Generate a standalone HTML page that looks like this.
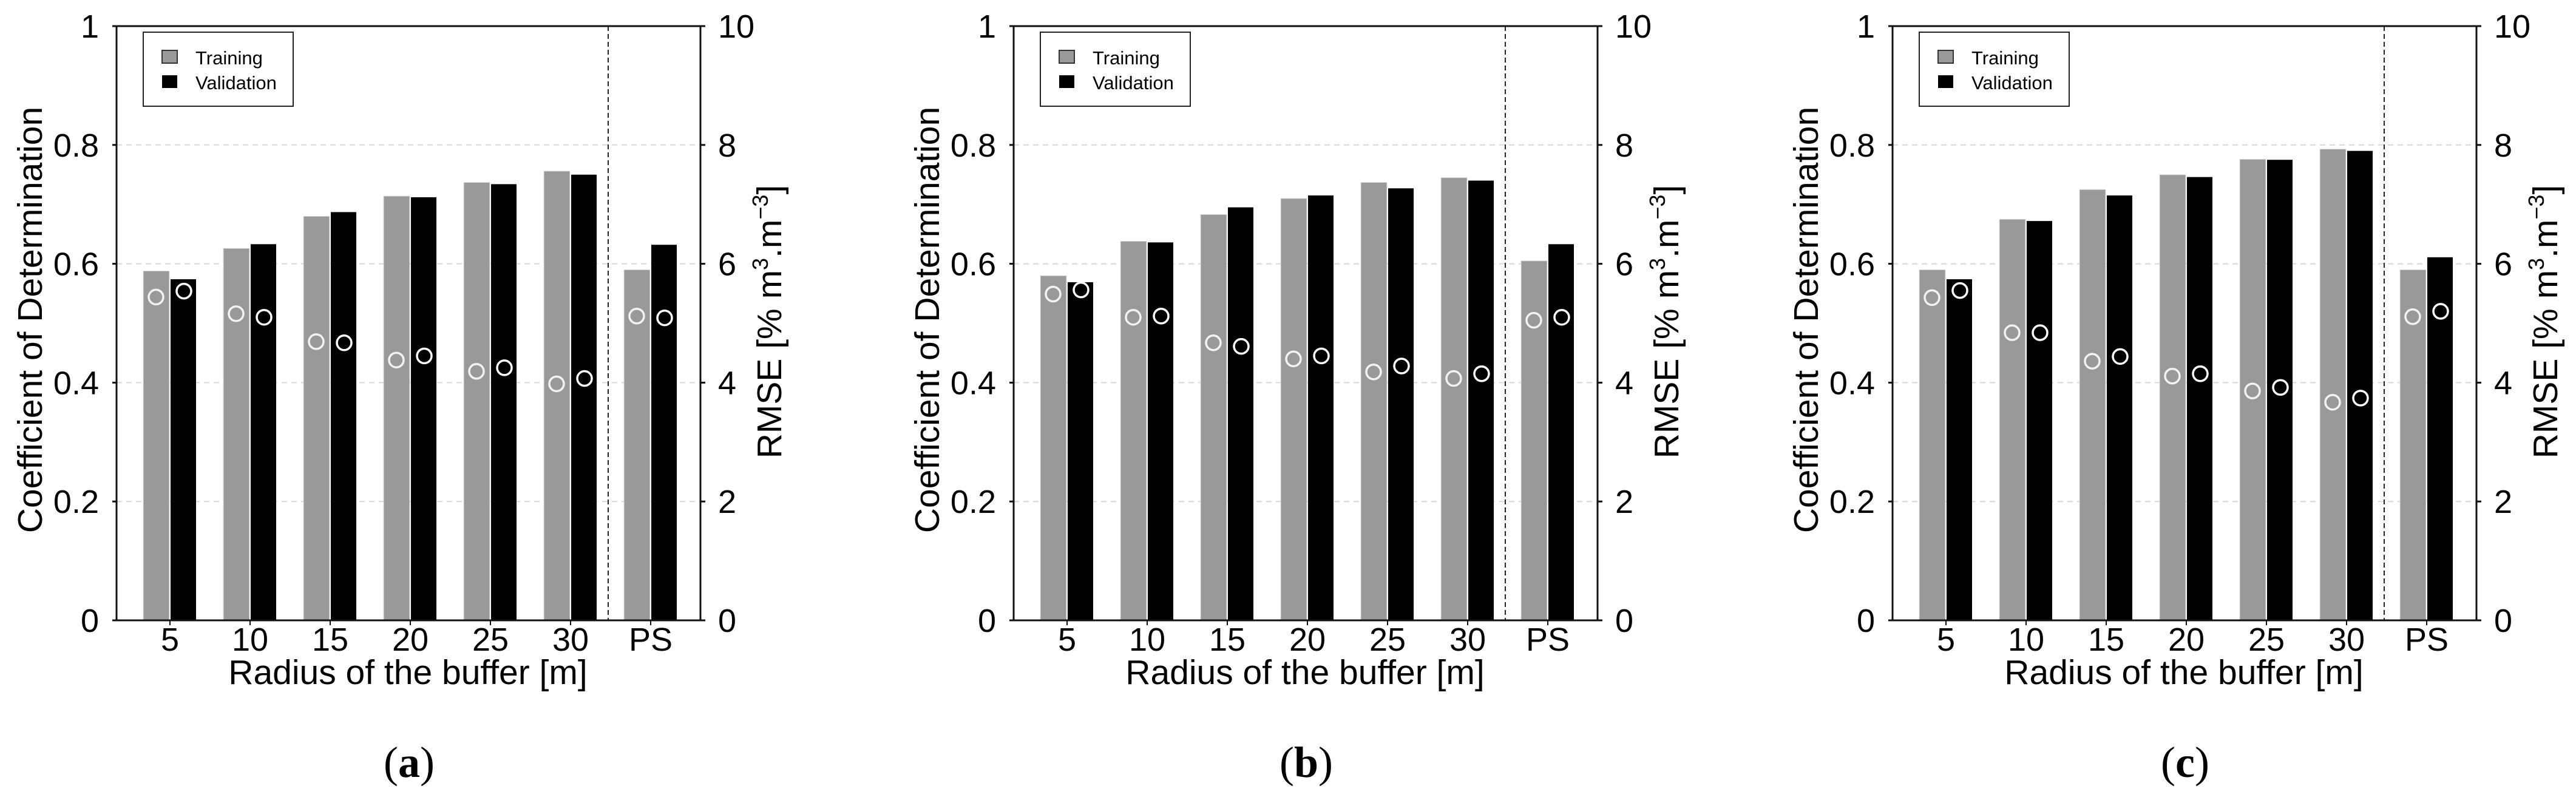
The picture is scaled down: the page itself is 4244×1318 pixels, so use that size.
<!DOCTYPE html>
<html><head><meta charset="utf-8"><style>
html,body{margin:0;padding:0;background:#fff;}
svg{display:block;font-family:"Liberation Sans",sans-serif;}
</style></head><body>
<svg id="fig" width="4244" height="1318" viewBox="0 0 4244 1318" xmlns="http://www.w3.org/2000/svg"></svg>
<script>
const categories = ["5","10","15","20","25","30","PS"];
const r2TickLabels = ["0","0.2","0.4","0.6","0.8","1"];
const rmseTickLabels = ["0","2","4","6","8","10"];
const panelLetters = ["a","b","c"];
const r2TrainA = [0.588,0.626,0.680,0.714,0.737,0.756,0.590];
const r2ValA   = [0.574,0.633,0.687,0.712,0.734,0.750,0.632];
const rmseTrainA = [5.44,5.16,4.69,4.38,4.19,3.98,5.12];
const rmseValA   = [5.54,5.10,4.67,4.45,4.25,4.07,5.09];
const r2TrainB = [0.580,0.638,0.683,0.710,0.737,0.745,0.605];
const r2ValB   = [0.569,0.636,0.695,0.715,0.727,0.740,0.633];
const rmseTrainB = [5.49,5.10,4.67,4.40,4.18,4.07,5.05];
const rmseValB   = [5.56,5.12,4.61,4.45,4.28,4.15,5.10];
const r2TrainC = [0.590,0.675,0.725,0.750,0.776,0.793,0.590];
const r2ValC   = [0.574,0.672,0.715,0.746,0.775,0.790,0.611];
const rmseTrainC = [5.43,4.84,4.36,4.11,3.86,3.67,5.11];
const rmseValC   = [5.55,4.84,4.44,4.15,3.92,3.74,5.20];

const NS="http://www.w3.org/2000/svg";
const svg=document.getElementById('fig');
function mk(tag,attrs,parent,text){const e=document.createElementNS(NS,tag);for(const k in attrs)e.setAttribute(k,attrs[k]);if(text!==undefined)e.textContent=text;(parent||svg).appendChild(e);return e;}

const panels=[
 {off:0,tr:r2TrainA,va:r2ValA,rt:rmseTrainA,rv:rmseValA},
 {off:1478,tr:r2TrainB,va:r2ValB,rt:rmseTrainB,rv:rmseValB},
 {off:2926,tr:r2TrainC,va:r2ValC,rt:rmseTrainC,rv:rmseValC}
];
const L=192,R=1154,T=43,B=1022;
panels.forEach((p,pi)=>{
 const g=mk('g',{transform:'translate('+p.off+',0)'});
 
 
 const yL=v=>B-(v/1)*(B-T);
 const yR=v=>B-(v/10)*(B-T);
 const xC=i=>280+i*132;
 // gridlines
 [0.2,0.4,0.6,0.8].forEach(v=>{
  const gl=mk('line',{x1:L,x2:R,y1:yL(v),y2:yL(v),stroke:'#d8d8d8','stroke-width':2,'stroke-dasharray':'9,7'},g);
  
  
 });
 // bars
 categories.forEach((c,i)=>{
  const b1=mk('rect',{x:xC(i)-44,y:yL(p.tr[i]),width:43,height:B-yL(p.tr[i]),fill:'#999999',stroke:'#e0e0e0','stroke-width':1},g);
  
  
  const b2=mk('rect',{x:xC(i)+1,y:yL(p.va[i]),width:42,height:B-yL(p.va[i]),fill:'#000'},g);
  
  
 });
 // circles
 categories.forEach((c,i)=>{
  const c1=mk('circle',{cx:xC(i)-23,cy:yR(p.rt[i]),r:12,fill:'#999999',stroke:'#f2f2f2','stroke-width':3.5},g);
  
  
  const c2=mk('circle',{cx:xC(i)+23,cy:yR(p.rv[i]),r:12,fill:'#000',stroke:'#fff','stroke-width':3.5},g);
  
  
 });
 // separator
 const sep=mk('line',{x1:1002,x2:1002,y1:T,y2:B,stroke:'#222','stroke-width':2,'stroke-dasharray':'8,5'},g);
 
 
 // axes frame
 const fr=mk('path',{d:`M${L},${T}H${R}V${B}H${L}Z`,fill:'none',stroke:'#111','stroke-width':3},g);
 
 
 // left ticks
 r2TickLabels.forEach((t,i)=>{
  const v=parseFloat(t);
  mk('line',{x1:L-7,x2:L,y1:yL(v),y2:yL(v),stroke:'#111','stroke-width':3},g);
  const tx=mk('text',{x:163,y:yL(v)+19,'text-anchor':'end','font-size':54,fill:'#000'},g,t);
  
  
 });
 rmseTickLabels.forEach((t,i)=>{
  const v=parseFloat(t);
  mk('line',{x1:R,x2:R+8,y1:yR(v),y2:yR(v),stroke:'#111','stroke-width':3},g);
  const tx=mk('text',{x:1183,y:yR(v)+19,'text-anchor':'start','font-size':54,fill:'#000'},g,t);
  
  
 });
 categories.forEach((c,i)=>{
  mk('line',{x1:xC(i),x2:xC(i),y1:B,y2:B+8,stroke:'#111','stroke-width':2},g);
  const tx=mk('text',{x:xC(i),y:1072,'text-anchor':'middle','font-size':54,fill:'#000'},g,c);
  
  
 });
 const xt=mk('text',{x:672,y:1127,'text-anchor':'middle','font-size':57,fill:'#000'},g,'Radius of the buffer [m]');
 
 
 const yt=mk('text',{x:0,y:0,'text-anchor':'middle','font-size':57,fill:'#000',transform:'translate(69,527) rotate(-90)'},g,'Coefficient of Determination');
 
 
 const rt=mk('text',{x:0,y:0,'text-anchor':'middle','font-size':57,fill:'#000',transform:'translate(1287,530) rotate(-90)'},g);
 
 
 mk('tspan',{},rt,'RMSE [% m');
 mk('tspan',{dy:-22,'font-size':36},rt,'3');
 mk('tspan',{dy:22},rt,'.m');
 mk('tspan',{dy:-22,'font-size':36},rt,'−3');
 mk('tspan',{dy:22},rt,']');
 // legend
 const lg=mk('g',{},g);
 
 
 mk('rect',{x:236,y:53,width:247,height:122,fill:'#fff',stroke:'#222','stroke-width':2},lg);
 mk('rect',{x:267,y:83,width:25,height:21,fill:'#999',stroke:'#333','stroke-width':2},lg);
 mk('rect',{x:267,y:124,width:25,height:21,fill:'#000'},lg);
 const l1=mk('text',{x:322,y:106,'font-size':31,fill:'#000'},lg,'Training');
 
 
 const l2=mk('text',{x:322,y:147,'font-size':31,fill:'#000'},lg,'Validation');
 
 
 // panel letter
 const pl=mk('text',{x:674,y:1280,'text-anchor':'middle','font-size':72,fill:'#000','font-family':'"Liberation Serif",serif'},g);
 
 
 mk('tspan',{},pl,'(');
 mk('tspan',{'font-weight':'bold'},pl,panelLetters[pi]);
 mk('tspan',{},pl,')');
});
</script>
</body></html>
